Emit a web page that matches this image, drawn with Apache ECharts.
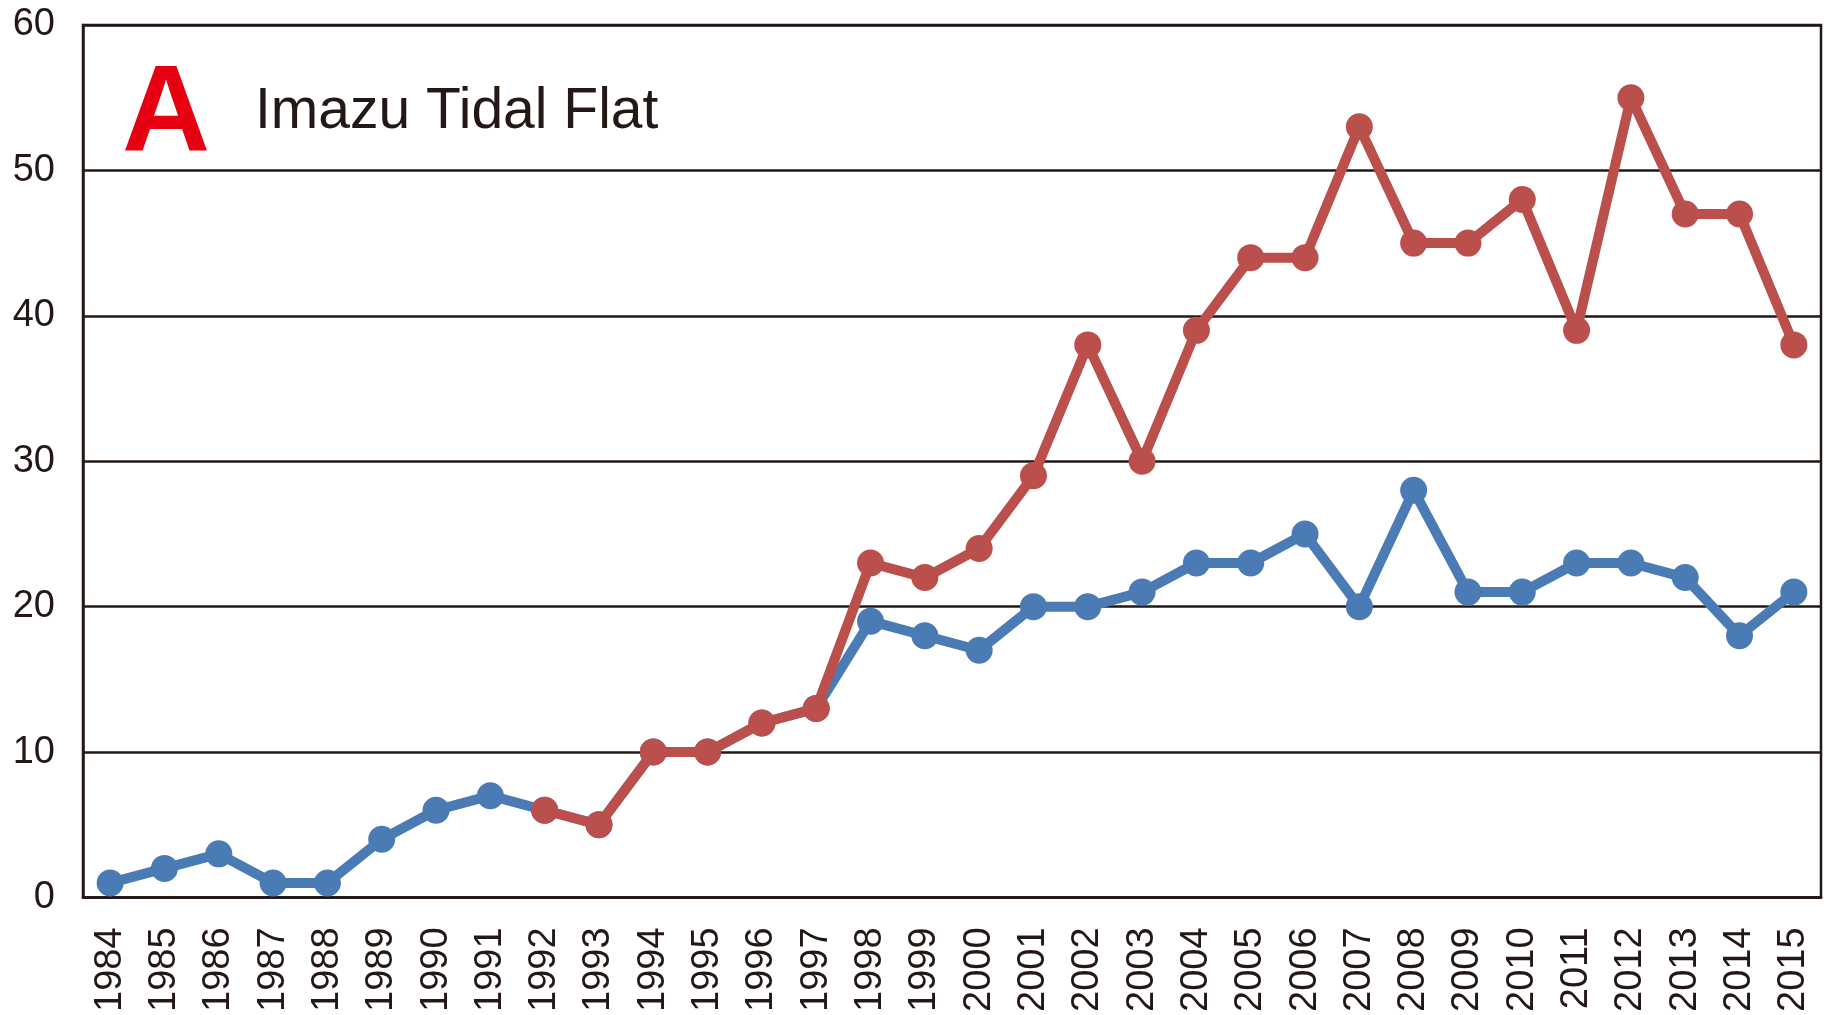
<!DOCTYPE html>
<html>
<head>
<meta charset="utf-8">
<script src="https://cdn.jsdelivr.net/npm/echarts@6/dist/echarts.min.js"></script>
<style>
  html, body { margin: 0; padding: 0; background: #fff; }
  #chart { width: 1831px; height: 1015px; }
</style>
</head>
<body>
<div id="chart"></div>
<script>
const years = ['1984', '1985', '1986', '1987', '1988', '1989', '1990', '1991', '1992', '1993',
  '1994', '1995', '1996', '1997', '1998', '1999', '2000', '2001', '2002', '2003', '2004',
  '2005', '2006', '2007', '2008', '2009', '2010', '2011', '2012', '2013', '2014', '2015']

const blueValues = [1, 2, 3, 1, 1, 4, 6, 7, 6, 5, 10, 10, 12, 13, 19, 18, 17, 20, 20, 21, 23,
  23, 25, 20, 28, 21, 21, 23, 23, 22, 18, 21]

const redValues = [null, null, null, null, null, null, null, null, 6, 5, 10, 10, 12, 13, 23, 22,
  24, 29, 38, 30, 39, 44, 44, 53, 45, 45, 48, 39, 55, 47, 47, 38]

const panelLetter = 'A'
const panelTitle = 'Imazu Tidal Flat'

const ink = '#231815'
const blue = '#4a7bb5'
const red = '#bb4f4c'

const chart = echarts.init(document.getElementById('chart'))
chart.setOption({
  animation: false,
  backgroundColor: '#fff',
  title: [
    {
      text: panelLetter,
      left: 122, top: 56, padding: 0,
      textStyle: { color: '#e60012', fontSize: 122, fontWeight: 'bold', fontFamily: 'Liberation Sans' }
    },
    {
      text: panelTitle,
      left: 255, top: 84, padding: 0,
      textStyle: { color: ink, fontSize: 57, fontWeight: 'normal', fontFamily: 'Liberation Sans' }
    }
  ],
  grid: {
    left: 83, right: 10, top: 25, bottom: 117,
    show: true, borderColor: ink, borderWidth: 2.5
  },
  xAxis: {
    type: 'category',
    data: years,
    boundaryGap: true,
    axisLine: { lineStyle: { color: ink, width: 2.5 } },
    axisTick: { show: false },
    axisLabel: {
      rotate: 90, margin: 30, color: ink, fontSize: 38, fontFamily: 'Liberation Sans'
    }
  },
  yAxis: {
    type: 'value',
    min: 0, max: 60, interval: 10,
    axisLine: { show: true, lineStyle: { color: ink, width: 2.5 } },
    axisTick: { show: false },
    splitLine: { lineStyle: { color: ink, width: 2.5 } },
    axisLabel: { margin: 28, color: ink, fontSize: 38, fontFamily: 'Liberation Sans' }
  },
  series: [
    {
      type: 'line',
      data: blueValues,
      symbol: 'circle', symbolSize: 27,
      lineStyle: { color: blue, width: 10 },
      itemStyle: { color: blue },
      z: 2
    },
    {
      type: 'line',
      data: redValues,
      symbol: 'circle', symbolSize: 27,
      lineStyle: { color: red, width: 10 },
      itemStyle: { color: red },
      z: 3
    }
  ]
})
</script>
</body>
</html>
